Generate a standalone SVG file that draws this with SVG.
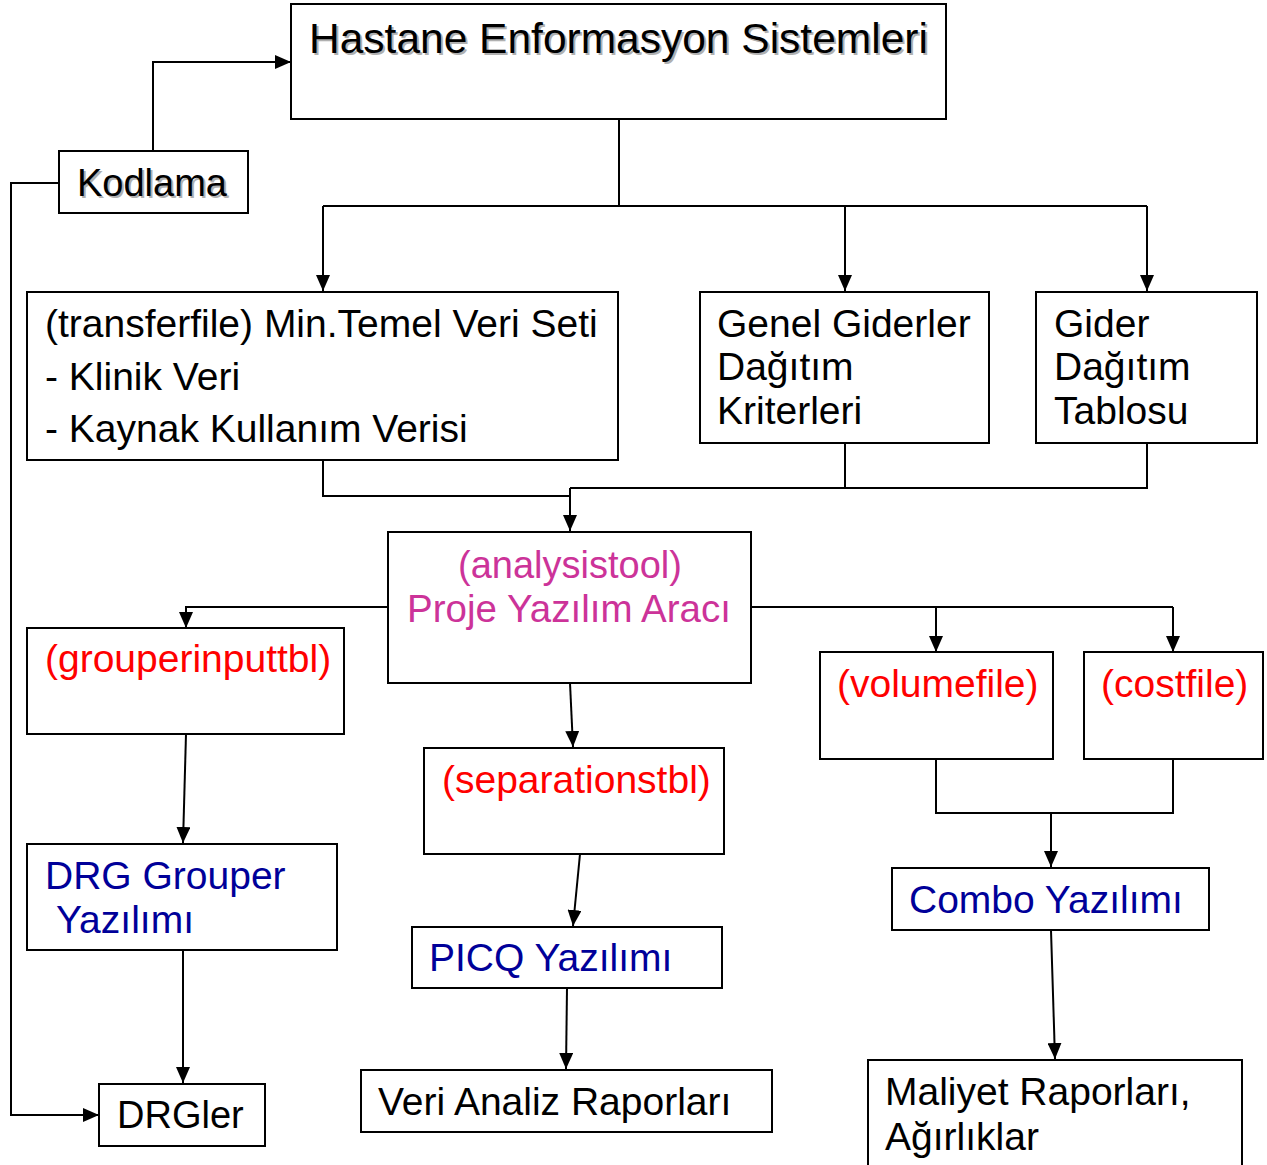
<svg xmlns="http://www.w3.org/2000/svg" width="1267" height="1165" viewBox="0 0 1267 1165">
<style>
.box{fill:#fff;stroke:#000;stroke-width:2}
.t{font-family:"Liberation Sans",Arial,sans-serif;font-size:39px;fill:#000}
.red{fill:#ff0000}
.blue{fill:#000099}
.mag{fill:#cc3399}
.sh{fill:#b0b0b0}
.ln{fill:none;stroke:#000;stroke-width:2}
.ar{marker-end:url(#ah)}
</style>
<defs>
<marker id="ah" markerUnits="userSpaceOnUse" markerWidth="16" markerHeight="14" viewBox="0 0 16 14" refX="16" refY="7" orient="auto">
<path d="M0,0 L16,7 L0,14 Z" fill="#000"/>
</marker>
</defs>
<rect width="1267" height="1165" fill="#fff"/>
<g id="connectors">
<path class="ln ar" d="M153,151 V62 H291"/>
<path class="ln ar" d="M59,183 H11 V1115 H99"/>
<path class="ln" d="M619,119 V206 M323,206 H1147"/>
<path class="ln ar" d="M323,206 V291"/>
<path class="ln ar" d="M845,206 V291"/>
<path class="ln ar" d="M1147,206 V291"/>
<path class="ln" d="M323,460 V496 H570"/>
<path class="ln" d="M845,443 V488 M1147,443 V488 H570"/>
<path class="ln ar" d="M570,488 V531"/>
<path class="ln ar" d="M388,607 H186 V628"/>
<path class="ln" d="M751,607 H1173"/>
<path class="ln ar" d="M936,607 V652"/>
<path class="ln ar" d="M1173,607 V652"/>
<path class="ln ar" d="M186,734 L183,843"/>
<path class="ln ar" d="M183,950 V1083"/>
<path class="ln ar" d="M570,683 L573,747"/>
<path class="ln ar" d="M580,854 L573,926"/>
<path class="ln ar" d="M567,988 L566,1069"/>
<path class="ln" d="M936,759 V813 H1173 V759"/>
<path class="ln ar" d="M1051,813 V867"/>
<path class="ln ar" d="M1051,930 L1055,1059"/>
</g>
<g id="n-his">
<rect class="box" x="291" y="4" width="655" height="115"/>
<text class="t sh" x="311" y="55" style="font-size:42.5px">Hastane Enformasyon Sistemleri</text>
<text class="t" x="309" y="53" style="font-size:42.5px">Hastane Enformasyon Sistemleri</text>
</g>
<g id="n-kodlama">
<rect class="box" x="59" y="151" width="189" height="62"/>
<text class="t sh" x="79" y="198" style="font-size:38px">Kodlama</text>
<text class="t" x="77" y="196" style="font-size:38px">Kodlama</text>
</g>
<g id="n-transferfile">
<rect class="box" x="27" y="292" width="591" height="168"/>
<text class="t" x="45" y="337">(transferfile) Min.Temel Veri Seti</text>
<text class="t" x="45" y="390">- Klinik Veri</text>
<text class="t" x="45" y="442">- Kaynak Kullanım Verisi</text>
</g>
<g id="n-genel">
<rect class="box" x="700" y="292" width="289" height="151"/>
<text class="t" x="717" y="337">Genel Giderler</text>
<text class="t" x="717" y="380">Dağıtım</text>
<text class="t" x="717" y="424">Kriterleri</text>
</g>
<g id="n-gider">
<rect class="box" x="1036" y="292" width="221" height="151"/>
<text class="t" x="1054" y="337">Gider</text>
<text class="t" x="1054" y="380">Dağıtım</text>
<text class="t" x="1054" y="424">Tablosu</text>
</g>
<g id="n-analysistool">
<rect class="box" x="388" y="532" width="363" height="151"/>
<text class="t mag" x="570" y="578" text-anchor="middle" style="font-size:38px">(analysistool)</text>
<text class="t mag" x="569" y="622" text-anchor="middle" style="font-size:38.5px">Proje Yazılım Aracı</text>
</g>
<g id="n-grouperinputtbl">
<rect class="box" x="27" y="628" width="317" height="106"/>
<text class="t red" x="45" y="672">(grouperinputtbl)</text>
</g>
<g id="n-drggrouper">
<rect class="box" x="27" y="844" width="310" height="106"/>
<text class="t blue" x="45" y="889">DRG Grouper</text>
<text class="t blue" x="56" y="933">Yazılımı</text>
</g>
<g id="n-drgler">
<rect class="box" x="99" y="1084" width="166" height="62"/>
<text class="t" x="117" y="1128" style="font-size:38px">DRGler</text>
</g>
<g id="n-separationstbl">
<rect class="box" x="424" y="748" width="300" height="106"/>
<text class="t red" x="442" y="793">(separationstbl)</text>
</g>
<g id="n-picq">
<rect class="box" x="412" y="927" width="310" height="61"/>
<text class="t blue" x="429" y="971">PICQ Yazılımı</text>
</g>
<g id="n-verianaliz">
<rect class="box" x="361" y="1070" width="411" height="62"/>
<text class="t" x="378" y="1115">Veri Analiz Raporları</text>
</g>
<g id="n-volumefile">
<rect class="box" x="820" y="652" width="233" height="107"/>
<text class="t red" x="837" y="697">(volumefile)</text>
</g>
<g id="n-costfile">
<rect class="box" x="1084" y="652" width="179" height="107"/>
<text class="t red" x="1101" y="697">(costfile)</text>
</g>
<g id="n-combo">
<rect class="box" x="892" y="868" width="317" height="62"/>
<text class="t blue" x="909" y="913">Combo Yazılımı</text>
</g>
<g id="n-maliyet">
<rect class="box" x="868" y="1060" width="374" height="120"/>
<text class="t" x="885" y="1105">Maliyet Raporları,</text>
<text class="t" x="885" y="1150">Ağırlıklar</text>
</g>
</svg>
